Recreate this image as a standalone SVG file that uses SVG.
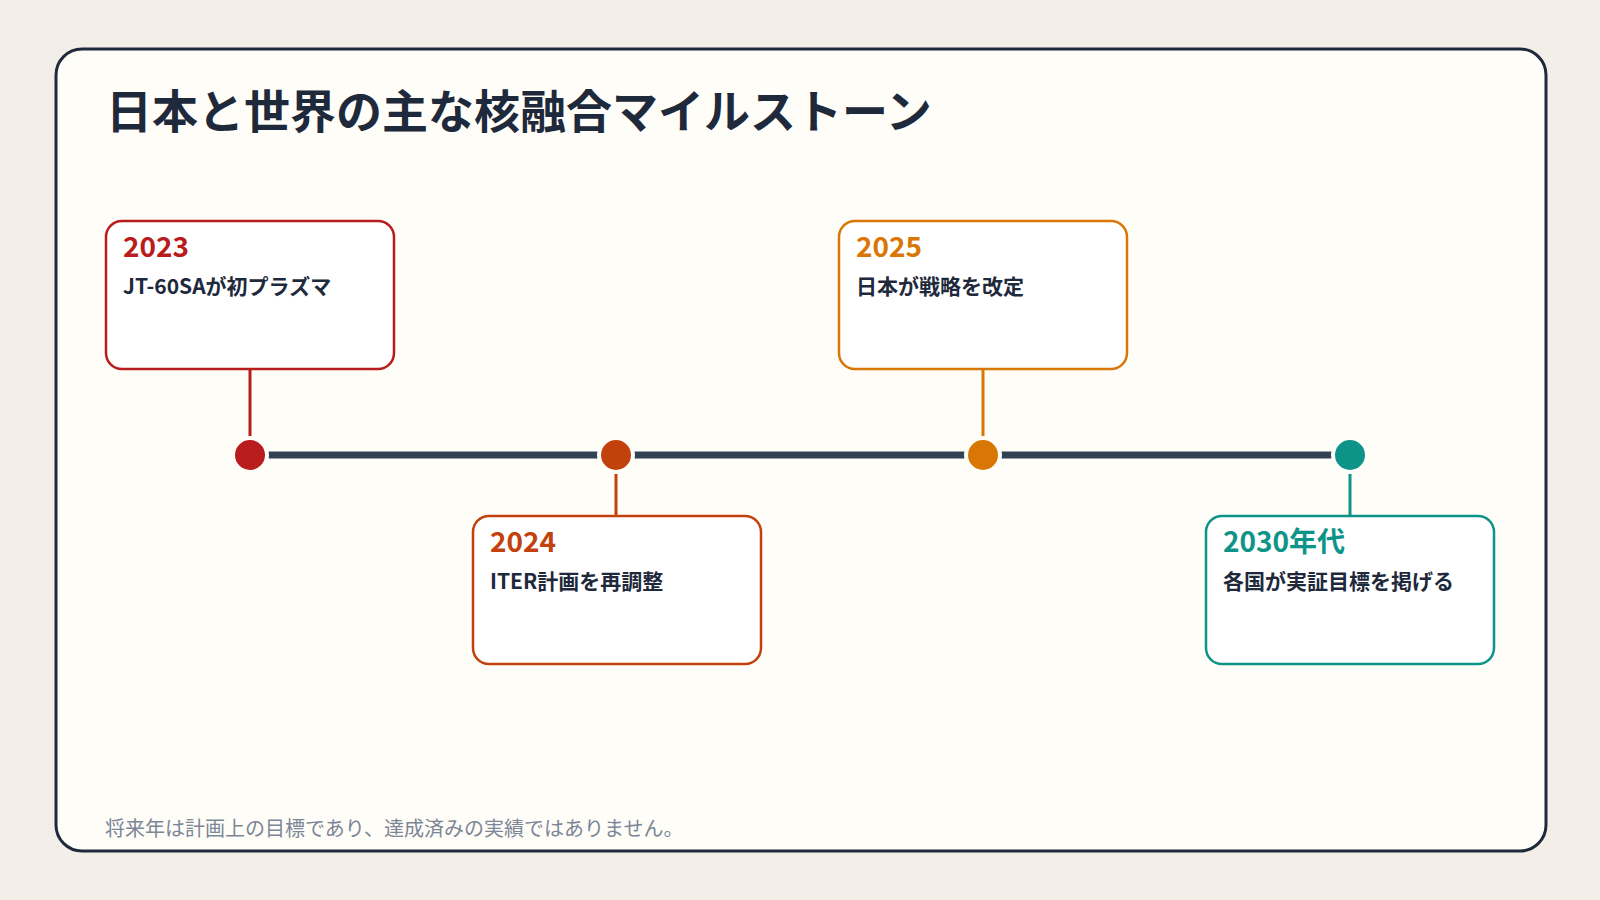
<svg xmlns="http://www.w3.org/2000/svg" width="1600" height="900" viewBox="0 0 1600 900">
<style>
text{font-family:"Noto Sans CJK JP","Noto Sans",sans-serif}
.yr{font-size:28px;font-weight:700}
.ds{font-size:21px;font-weight:700;fill:#1e293b}
.card{fill:#ffffff;stroke-width:2.5}
.dot{stroke:#fefdf8;stroke-width:4}
</style>
<rect width="1600" height="900" fill="#f3efe8"/>
<rect x="56" y="49" width="1490" height="802" rx="26" fill="#fefdf8" stroke="#1e293b" stroke-width="3"/>
<text x="106" y="128" font-size="46" font-weight="700" fill="#1e293b">日本と世界の主な核融合マイルストーン</text>
<g id="connectors">
<line x1="250" y1="455" x2="1350" y2="455" stroke="#334155" stroke-width="7"/>
<line x1="250" y1="369" x2="250" y2="440" stroke="#b91c1c" stroke-width="3"/>
<line x1="616" y1="470" x2="616" y2="516" stroke="#c2410c" stroke-width="3"/>
<line x1="983" y1="369" x2="983" y2="440" stroke="#d97706" stroke-width="3"/>
<line x1="1350" y1="470" x2="1350" y2="516" stroke="#0d9488" stroke-width="3"/>
</g>
<g id="n2023">
<circle class="dot" cx="250" cy="455" r="17" fill="#b91c1c"/>
<rect class="card" x="106" y="221" width="288" height="148" rx="16" stroke="#b91c1c"/>
<text class="yr" x="123" y="257" fill="#b91c1c">2023</text>
<text class="ds" x="123" y="294">JT-60SAが初プラズマ</text>
</g>
<g id="n2024">
<circle class="dot" cx="616" cy="455" r="17" fill="#c2410c"/>
<rect class="card" x="473" y="516" width="288" height="148" rx="16" stroke="#c2410c"/>
<text class="yr" x="490" y="552" fill="#c2410c">2024</text>
<text class="ds" x="490" y="589">ITER計画を再調整</text>
</g>
<g id="n2025">
<circle class="dot" cx="983" cy="455" r="17" fill="#d97706"/>
<rect class="card" x="839" y="221" width="288" height="148" rx="16" stroke="#d97706"/>
<text class="yr" x="856" y="257" fill="#d97706">2025</text>
<text class="ds" x="856" y="294">日本が戦略を改定</text>
</g>
<g id="n2030">
<circle class="dot" cx="1350" cy="455" r="17" fill="#0d9488"/>
<rect class="card" x="1206" y="516" width="288" height="148" rx="16" stroke="#0d9488"/>
<text class="yr" x="1223" y="552" fill="#0d9488">2030年代</text>
<text class="ds" x="1223" y="589">各国が実証目標を掲げる</text>
</g>
<text x="105" y="836" font-size="20" fill="#7c8696">将来年は計画上の目標であり、達成済みの実績ではありません。</text>
</svg>
